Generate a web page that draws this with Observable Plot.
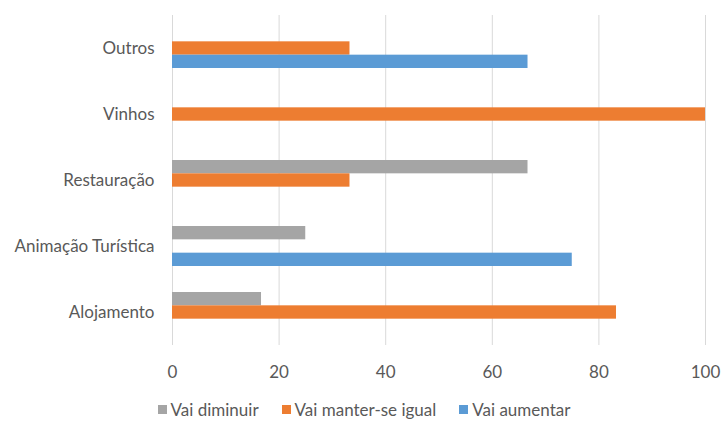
<!DOCTYPE html>
<html>
<head>
<meta charset="utf-8">
<script src="https://cdn.jsdelivr.net/npm/d3@7"></script>
<script src="https://cdn.jsdelivr.net/npm/@observablehq/plot@0.6"></script>
<style>
  html, body { margin: 0; padding: 0; background: #fff; }
  body { width: 724px; height: 421px; overflow: hidden; font-family: Lato, "Open Sans", sans-serif; color: #595959; }
  #legend { display: flex; justify-content: center; align-items: center; gap: 23px; height: 29px; font-size: 17px; padding-top: 5px; padding-left: 4px; box-sizing: border-box; }
  #legend .item { display: flex; align-items: center; gap: 4px; }
  #legend .sw { width: 9px; height: 9px; display: inline-block; }
</style>
</head>
<body>
<div id="chart"></div>
<div id="legend"></div>
<script>
const categories = ["Outros", "Vinhos", "Restauração", "Animação Turística", "Alojamento"];
const series = ["Vai diminuir", "Vai manter-se igual", "Vai aumentar"];
const vaiDiminuir = [0, 0, 66.7, 25, 16.7];
const vaiManter = [33.3, 100, 33.3, 0, 83.3];
const vaiAumentar = [66.7, 0, 0, 75, 0];
const xTicks = [0, 20, 40, 60, 80, 100];
const colors = ["#a5a5a5", "#ed7d31", "#5b9bd5"];

const valuesBySeries = [vaiDiminuir, vaiManter, vaiAumentar];
const data = [];
categories.forEach((c, i) => {
  series.forEach((s, j) => data.push({category: c, series: s, value: valuesBySeries[j][i]}));
});

const plot = Plot.plot({
  width: 724,
  height: 392,
  marginTop: 15,
  marginBottom: 47,
  marginLeft: 172,
  marginRight: 19,
  style: {fontFamily: "Lato, 'Open Sans', sans-serif", fontSize: "17px", color: "#595959", background: "#fff"},
  x: {domain: [0, 100], ticks: xTicks, tickSize: 0, tickPadding: 20, label: null},
  y: {domain: series, paddingInner: 0, paddingOuter: 0.975, round: false, axis: null},
  fy: {domain: categories, padding: 0, tickSize: 0, tickPadding: 18, label: null},
  color: {domain: series, range: colors},
  marks: [
    Plot.gridX(xTicks, {stroke: "#d9d9d9", strokeOpacity: 1, strokeWidth: 1}),
    Plot.barX(data, {x: "value", y: "series", fy: "category", fill: "series"})
  ]
});
document.getElementById("chart").appendChild(plot);

const legend = document.getElementById("legend");
series.forEach((s, j) => {
  const item = document.createElement("span");
  item.className = "item";
  const sw = document.createElement("span");
  sw.className = "sw";
  sw.style.background = colors[j];
  const t = document.createElement("span");
  t.textContent = s;
  item.appendChild(sw);
  item.appendChild(t);
  legend.appendChild(item);
});
</script>
</body>
</html>
